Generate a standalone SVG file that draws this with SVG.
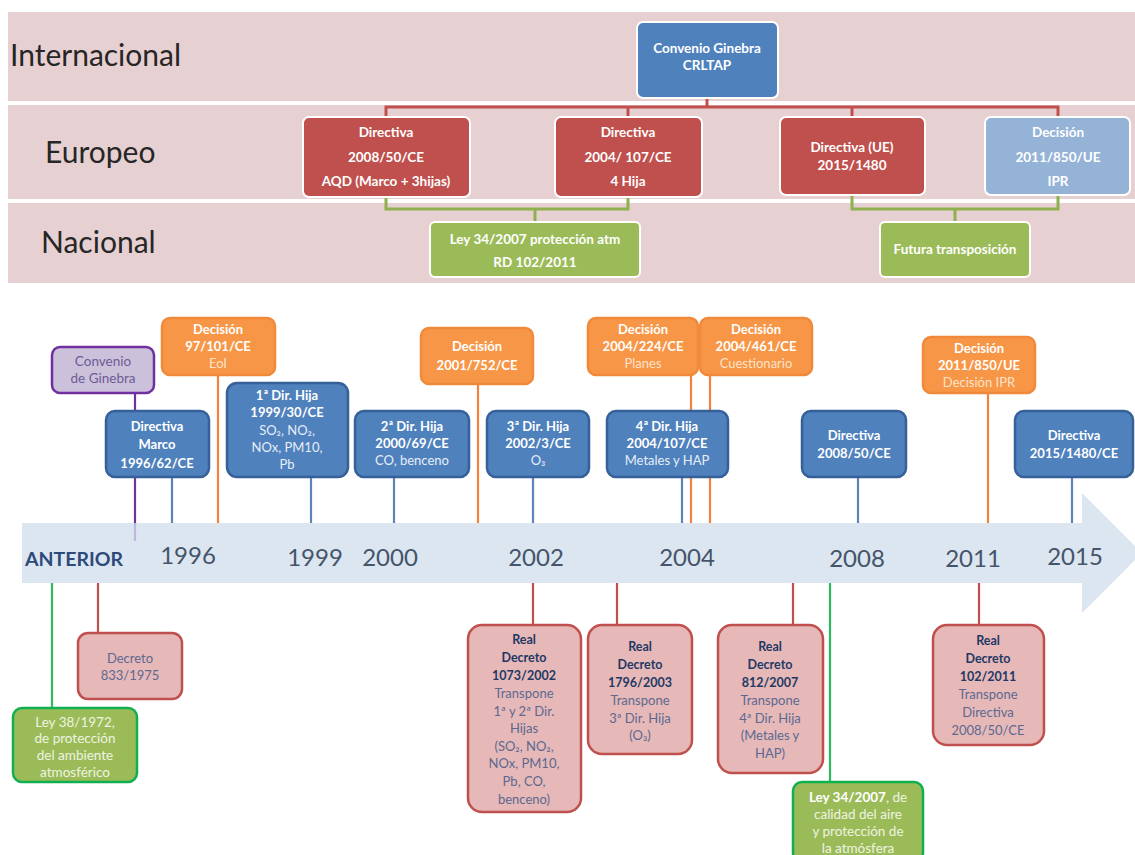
<svg xmlns="http://www.w3.org/2000/svg" width="1135" height="855" viewBox="0 0 1135 855">
<style>
text{font-family:Lato,"Liberation Sans",sans-serif}
.row{font-size:30px;fill:#262626}
.tb{font-size:13.5px;font-weight:bold;fill:#ffffff;text-anchor:middle}
.lane{fill:#e6d0d2}
.redc{fill:none;stroke:#c0504d;stroke-width:3}
.grnc{fill:none;stroke:#8fb04e;stroke-width:3}
.rbox{fill:#c0504d;stroke:#ffffff;stroke-width:2}
.blbox{fill:#4f81bd;stroke:#ffffff;stroke-width:2}
.lbbox{fill:#95b3d7;stroke:#ffffff;stroke-width:2}
.gbox{fill:#9bbb59;stroke:#ffffff;stroke-width:2}
.yr{font-size:24px;fill:#44546a;text-anchor:middle}
.ant{font-size:19.5px;font-weight:bold;fill:#2e4a7a}
.b{fill:#4f81bd;stroke:#36609a;stroke-width:2.5}
.o{fill:#f79646;stroke:#f08a3a;stroke-width:2.5}
.p{fill:#e6b9b8;stroke:#c0504d;stroke-width:2.5}
.g{fill:#9bbb59;stroke:#10b050;stroke-width:2.5}
.v{fill:#ccc1da;stroke:#7030a0;stroke-width:2.5}
.wt{font-size:13px;font-weight:bold;fill:#ffffff;text-anchor:middle}
.wl{font-size:13px;fill:#e6eef8;text-anchor:middle}
.ol{font-size:13px;fill:#fde3cc;text-anchor:middle}
.pt{font-size:12.5px;font-weight:bold;fill:#1f3864;text-anchor:middle}
.pl{font-size:13px;fill:#5c6890;text-anchor:middle}
.gl{font-size:13.5px;fill:#eef4e0;text-anchor:middle}
.vl{font-size:13.5px;fill:#6c5c96;text-anchor:middle}
.tk{stroke-width:2.2}
.tb1{stroke:#5b84b8}
.to{stroke:#f5813a}
.tr{stroke:#c0504d}
.tg{stroke:#2cbc5a}
.tv{stroke:#7030a0}
</style>

<!-- Top hierarchy -->
<g id="lanes">
<rect class="lane" x="8" y="12" width="1127" height="89"/>
<rect class="lane" x="8" y="105" width="1127" height="94"/>
<rect class="lane" x="8" y="203" width="1127" height="80"/>
<text class="row" x="10" y="66">Internacional</text>
<text class="row" x="45" y="163">Europeo</text>
<text class="row" x="41" y="253">Nacional</text>
</g>

<g id="top-connectors">
<polyline class="redc" points="707,98 707,107"/>
<polyline class="redc" points="386,117 386,107 1058,107 1058,117"/>
<line class="redc" x1="628" y1="107" x2="628" y2="117"/>
<line class="redc" x1="852" y1="107" x2="852" y2="117"/>
<polyline class="grnc" points="386,197 386,209 628,209 628,197"/>
<line class="grnc" x1="535" y1="209" x2="535" y2="222"/>
<polyline class="grnc" points="852,195 852,209 1058,209 1058,195"/>
<line class="grnc" x1="955" y1="209" x2="955" y2="222"/>
</g>

<g id="convenio-crltap">
<rect class="blbox" x="637" y="22" width="141" height="76" rx="6"/>
<text class="tb" x="707" y="53">Convenio Ginebra</text>
<text class="tb" x="707" y="70">CRLTAP</text>
</g>
<g id="dir-2008-50">
<rect class="rbox" x="303" y="117" width="167" height="80" rx="6"/>
<text class="tb" x="386" y="137">Directiva</text>
<text class="tb" x="386" y="162">2008/50/CE</text>
<text class="tb" x="386" y="186">AQD (Marco + 3hijas)</text>
</g>
<g id="dir-2004-107">
<rect class="rbox" x="555" y="117" width="147" height="80" rx="6"/>
<text class="tb" x="628" y="137">Directiva</text>
<text class="tb" x="628" y="162">2004/ 107/CE</text>
<text class="tb" x="628" y="186">4 Hija</text>
</g>
<g id="dir-2015-1480">
<rect class="rbox" x="780" y="117" width="145" height="78" rx="6"/>
<text class="tb" x="852" y="152">Directiva (UE)</text>
<text class="tb" x="852" y="170">2015/1480</text>
</g>
<g id="dec-2011-850">
<rect class="lbbox" x="985" y="117" width="145" height="78" rx="6"/>
<text class="tb" x="1058" y="137">Decisión</text>
<text class="tb" x="1058" y="162">2011/850/UE</text>
<text class="tb" x="1058" y="186">IPR</text>
</g>
<g id="ley-34-2007-top">
<rect class="gbox" x="430" y="222" width="210" height="55" rx="5"/>
<text class="tb" x="535" y="244">Ley 34/2007 protección atm</text>
<text class="tb" x="535" y="267">RD 102/2011</text>
</g>
<g id="futura">
<rect class="gbox" x="880" y="222" width="150" height="55" rx="5"/>
<text class="tb" x="955" y="254">Futura transposición</text>
</g>

<!-- Timeline -->
<g id="band">
<path d="M22,523 L1082,523 L1082,493 L1142,553 L1082,613 L1082,583 L22,583 Z" fill="#dce6f1"/>
<text class="ant" x="25" y="566">ANTERIOR</text>
<text class="yr" x="188" y="564">1996</text>
<text class="yr" x="315" y="566">1999</text>
<text class="yr" x="390" y="566">2000</text>
<text class="yr" x="536" y="566">2002</text>
<text class="yr" x="687" y="566">2004</text>
<text class="yr" x="857" y="567">2008</text>
<text class="yr" x="973" y="567">2011</text>
<text class="yr" x="1075" y="565">2015</text>
</g>

<g id="connectors">
<line class="tk tv" x1="135" y1="393" x2="135" y2="523"/>
<line class="tk tv" x1="135" y1="523" x2="135" y2="541" opacity="0.25"/>
<line class="tk tb1" x1="172" y1="477" x2="172" y2="523"/>
<line class="tk to" x1="218" y1="375" x2="218" y2="523"/>
<line class="tk tb1" x1="311" y1="477" x2="311" y2="523"/>
<line class="tk tb1" x1="394" y1="477" x2="394" y2="523"/>
<line class="tk to" x1="478" y1="384" x2="478" y2="523"/>
<line class="tk tb1" x1="533" y1="477" x2="533" y2="523"/>
<line class="tk tb1" x1="682" y1="477" x2="682" y2="523"/>
<line class="tk to" x1="691" y1="375" x2="691" y2="523"/>
<line class="tk to" x1="710" y1="375" x2="710" y2="523"/>
<line class="tk tb1" x1="858" y1="477" x2="858" y2="523"/>
<line class="tk to" x1="988" y1="393" x2="988" y2="523"/>
<line class="tk tb1" x1="1072" y1="477" x2="1072" y2="523"/>
<line class="tk tg" x1="52" y1="583" x2="52" y2="708"/>
<line class="tk tr" x1="98" y1="583" x2="98" y2="633"/>
<line class="tk tr" x1="533" y1="583" x2="533" y2="625"/>
<line class="tk tr" x1="617" y1="583" x2="617" y2="625"/>
<line class="tk tr" x1="793" y1="583" x2="793" y2="625"/>
<line class="tk tg" x1="830" y1="583" x2="830" y2="782"/>
<line class="tk tr" x1="979" y1="583" x2="979" y2="625"/>
</g>

<g id="convenio-ginebra">
<rect class="v" x="52" y="347" width="102" height="46" rx="8"/>
<text class="vl" x="103" y="366">Convenio</text>
<text class="vl" x="103" y="383">de Ginebra</text>
</g>
<g id="dec-97-101">
<rect class="o" x="162" y="318" width="113" height="57" rx="8"/>
<text class="wt" x="218" y="334">Decisión</text>
<text class="wt" x="218" y="351">97/101/CE</text>
<text class="ol" x="218" y="368">EoI</text>
</g>
<g id="dir-marco">
<rect class="b" x="106" y="411" width="103" height="66" rx="9"/>
<text class="wt" x="157" y="431">Directiva</text>
<text class="wt" x="157" y="449">Marco</text>
<text class="wt" x="157" y="468">1996/62/CE</text>
</g>
<g id="hija-1">
<rect class="b" x="227" y="383" width="121" height="94" rx="10"/>
<text class="wt" x="287" y="400">1ª Dir. Hija</text>
<text class="wt" x="287" y="417">1999/30/CE</text>
<text class="wl" x="287" y="435">SO₂, NO₂,</text>
<text class="wl" x="287" y="452">NOx, PM10,</text>
<text class="wl" x="287" y="469">Pb</text>
</g>
<g id="hija-2">
<rect class="b" x="355" y="411" width="114" height="66" rx="9"/>
<text class="wt" x="412" y="431">2ª Dir. Hija</text>
<text class="wt" x="412" y="448">2000/69/CE</text>
<text class="wl" x="412" y="465">CO, benceno</text>
</g>
<g id="dec-2001-752">
<rect class="o" x="421" y="328" width="112" height="56" rx="8"/>
<text class="wt" x="477" y="351">Decisión</text>
<text class="wt" x="477" y="370">2001/752/CE</text>
</g>
<g id="hija-3">
<rect class="b" x="487" y="411" width="102" height="66" rx="9"/>
<text class="wt" x="538" y="431">3ª Dir. Hija</text>
<text class="wt" x="538" y="448">2002/3/CE</text>
<text class="wl" x="538" y="465">O₃</text>
</g>
<g id="dec-2004-224">
<rect class="o" x="588" y="318" width="110" height="57" rx="8"/>
<text class="wt" x="643" y="334">Decisión</text>
<text class="wt" x="643" y="351">2004/224/CE</text>
<text class="ol" x="643" y="368">Planes</text>
</g>
<g id="dec-2004-461">
<rect class="o" x="700" y="318" width="112" height="57" rx="8"/>
<text class="wt" x="756" y="334">Decisión</text>
<text class="wt" x="756" y="351">2004/461/CE</text>
<text class="ol" x="756" y="368">Cuestionario</text>
</g>
<g id="hija-4">
<rect class="b" x="607" y="411" width="121" height="66" rx="9"/>
<text class="wt" x="667" y="431">4ª Dir. Hija</text>
<text class="wt" x="667" y="448">2004/107/CE</text>
<text class="wl" x="667" y="465">Metales y HAP</text>
</g>
<g id="dir-2008">
<rect class="b" x="802" y="411" width="104" height="66" rx="9"/>
<text class="wt" x="854" y="440">Directiva</text>
<text class="wt" x="854" y="458">2008/50/CE</text>
</g>
<g id="dec-2011">
<rect class="o" x="923" y="337" width="112" height="56" rx="8"/>
<text class="wt" x="979" y="353">Decisión</text>
<text class="wt" x="979" y="370">2011/850/UE</text>
<text class="ol" x="979" y="387">Decisión IPR</text>
</g>
<g id="dir-2015">
<rect class="b" x="1015" y="411" width="118" height="66" rx="9"/>
<text class="wt" x="1074" y="440">Directiva</text>
<text class="wt" x="1074" y="458">2015/1480/CE</text>
</g>

<g id="decreto-833">
<rect class="p" x="78" y="633" width="104" height="66" rx="10"/>
<text class="pl" x="130" y="663">Decreto</text>
<text class="pl" x="130" y="680">833/1975</text>
</g>
<g id="ley-38-1972">
<rect class="g" x="13" y="708" width="124" height="74" rx="9"/>
<text class="gl" x="75" y="727">Ley 38/1972,</text>
<text class="gl" x="75" y="743">de protección</text>
<text class="gl" x="75" y="760">del ambiente</text>
<text class="gl" x="75" y="777">atmosférico</text>
</g>
<g id="rd-1073">
<rect class="p" x="468" y="625" width="113" height="187" rx="14"/>
<text class="pt" x="524" y="644">Real</text>
<text class="pt" x="524" y="662">Decreto</text>
<text class="pt" x="524" y="680">1073/2002</text>
<text class="pl" x="524" y="698">Transpone</text>
<text class="pl" x="524" y="716">1ª y 2ª Dir.</text>
<text class="pl" x="524" y="733">Hijas</text>
<text class="pl" x="524" y="751">(SO₂, NO₂,</text>
<text class="pl" x="524" y="768">NOx, PM10,</text>
<text class="pl" x="524" y="786">Pb, CO,</text>
<text class="pl" x="524" y="804">benceno)</text>
</g>
<g id="rd-1796">
<rect class="p" x="588" y="625" width="104" height="129" rx="14"/>
<text class="pt" x="640" y="651">Real</text>
<text class="pt" x="640" y="669">Decreto</text>
<text class="pt" x="640" y="687">1796/2003</text>
<text class="pl" x="640" y="705">Transpone</text>
<text class="pl" x="640" y="723">3ª Dir. Hija</text>
<text class="pl" x="640" y="740">(O₃)</text>
</g>
<g id="rd-812">
<rect class="p" x="718" y="625" width="105" height="148" rx="14"/>
<text class="pt" x="770" y="651">Real</text>
<text class="pt" x="770" y="669">Decreto</text>
<text class="pt" x="770" y="687">812/2007</text>
<text class="pl" x="770" y="705">Transpone</text>
<text class="pl" x="770" y="723">4ª Dir. Hija</text>
<text class="pl" x="770" y="740">(Metales y</text>
<text class="pl" x="770" y="758">HAP)</text>
</g>
<g id="ley-34-2007">
<rect class="g" x="793" y="782" width="130" height="80" rx="9"/>
<text class="gl" x="858" y="802"><tspan font-weight="bold" fill="#ffffff">Ley 34/2007</tspan>, de</text>
<text class="gl" x="858" y="819">calidad del aire</text>
<text class="gl" x="858" y="836">y protección de</text>
<text class="gl" x="858" y="853">la atmósfera</text>
</g>
<g id="rd-102">
<rect class="p" x="933" y="625" width="111" height="120" rx="14"/>
<text class="pt" x="988" y="645">Real</text>
<text class="pt" x="988" y="663">Decreto</text>
<text class="pt" x="988" y="681">102/2011</text>
<text class="pl" x="988" y="699">Transpone</text>
<text class="pl" x="988" y="717">Directiva</text>
<text class="pl" x="988" y="735">2008/50/CE</text>
</g>
</svg>
